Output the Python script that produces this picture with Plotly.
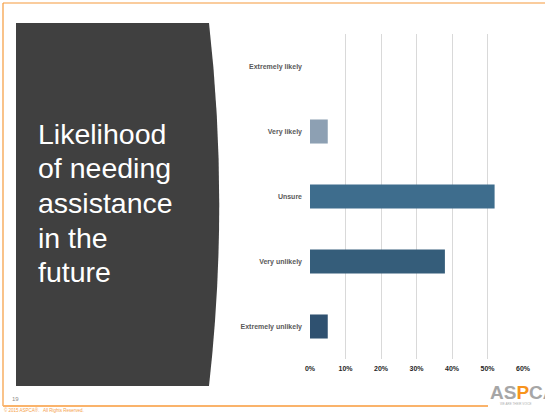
import plotly.graph_objects as go

W, H = 545, 413

categories = ["Extremely likely", "Very likely", "Unsure", "Very unlikely", "Extremely unlikely"]
values = [0.0, 0.05, 0.52, 0.38, 0.05]
bar_colors = ["#8da0b3", "#8da0b3", "#3e6d8d", "#355d7a", "#2f5170"]
tick_vals = [0, 0.1, 0.2, 0.3, 0.4, 0.5, 0.6]
tick_text = ["0%", "10%", "20%", "30%", "40%", "50%", "60%"]
title_lines = ["Likelihood", "of needing", "assistance", "in the", "future"]


def px(x, y):
    return x / W, 1 - y / H


fig = go.Figure()
fig.add_trace(go.Bar(
    y=categories, x=values, orientation="h",
    marker=dict(color=bar_colors, line=dict(width=0)),
    width=0.37, hoverinfo="skip",
))

# plot-area geometry in pixels
PL, PR, PT, PB = 310, 523, 34, 359

shapes = []
# orange slide frame
ox0, oy0 = px(3, 3)
ox1, oy1 = px(W + 5, 3)
shapes.append(dict(type="line", xref="paper", yref="paper", x0=ox0, y0=oy0, x1=ox1, y1=oy1,
                   line=dict(color="#f59a3c", width=1.2), layer="below"))
lx0, ly0 = px(3, 3)
lx1, ly1 = px(3, 406)
shapes.append(dict(type="line", xref="paper", yref="paper", x0=lx0, y0=ly0, x1=lx1, y1=ly1,
                   line=dict(color="#f59a3c", width=1.2), layer="below"))
bx0, by0 = px(3, 406)
bx1, by1 = px(488, 406)
shapes.append(dict(type="line", xref="paper", yref="paper", x0=bx0, y0=by0, x1=bx1, y1=by1,
                   line=dict(color="#fab36b", width=2), layer="below"))

# dark title panel with curved right edge
p = [px(16, 23), px(209, 23), px(229.5, 204), px(209, 386), px(16, 386)]
path = (f"M {p[0][0]},{p[0][1]} L {p[1][0]},{p[1][1]} "
        f"Q {p[2][0]},{p[2][1]} {p[3][0]},{p[3][1]} "
        f"L {p[4][0]},{p[4][1]} Z")
shapes.append(dict(type="path", xref="paper", yref="paper", path=path,
                   fillcolor="#404040", line=dict(width=0), layer="below"))

annotations = []
for i, line in enumerate(title_lines):
    tx, ty = px(37, 134 + 34.5 * i)
    annotations.append(dict(xref="paper", yref="paper", x=tx, y=ty, xanchor="left", yanchor="middle",
                            text=line, showarrow=False, align="left", borderpad=0,
                            font=dict(family="Liberation Sans, Arial", size=28.5, color="#ffffff")))
nx, ny = px(10, 399)
annotations.append(dict(xref="paper", yref="paper", x=nx, y=ny, xanchor="left", yanchor="middle",
                        text="19", showarrow=False,
                        font=dict(family="Liberation Sans, Arial", size=6, color="#8c8c8c")))
fx, fy = px(2, 409.5)
annotations.append(dict(xref="paper", yref="paper", x=fx, y=fy, xanchor="left", yanchor="middle",
                        text="© 2015 ASPCA®.   All Rights Reserved.", showarrow=False,
                        font=dict(family="Liberation Sans, Arial", size=4.5, color="#f5a04a")))
gx, gy = px(488, 392)
annotations.append(dict(xref="paper", yref="paper", x=gx, y=gy, xanchor="left", yanchor="middle",
                        text="AS<span style='color:#f7941d'>P</span>CA", showarrow=False,
                        font=dict(family="Liberation Sans Narrow, Liberation Sans, Arial", size=19,
                                  color="#a6a6a6", weight="bold")))
wx, wy = px(498, 404)
annotations.append(dict(xref="paper", yref="paper", x=wx, y=wy, xanchor="left", yanchor="middle",
                        text="WE ARE THEIR VOICE", showarrow=False,
                        font=dict(family="Liberation Sans, Arial", size=3, color="#b0b0b0")))

fig.update_layout(
    width=W, height=H, autosize=False,
    margin=dict(l=0, r=0, t=0, b=0, pad=0),
    paper_bgcolor="#ffffff", plot_bgcolor="rgba(0,0,0,0)",
    showlegend=False, bargap=0.63,
    shapes=shapes, annotations=annotations,
    xaxis=dict(
        domain=[PL / W, PR / W], range=[0, 0.6], tickvals=tick_vals, ticktext=tick_text,
        showgrid=True, gridcolor="#d9d9d9", gridwidth=1, zeroline=False, automargin=False,
        showline=False, ticks="", ticklabelstandoff=4,
        tickfont=dict(family="Liberation Sans, Arial", size=7, color="#262626", weight="bold"),
        fixedrange=True,
    ),
    yaxis=dict(
        domain=[1 - PB / H, 1 - PT / H], categoryorder="array", categoryarray=categories,
        autorange="reversed", showgrid=False, zeroline=False, showline=False, ticks="",
        ticklabelstandoff=7, automargin=False,
        tickfont=dict(family="Liberation Sans, Arial", size=7, color="#595959", weight="bold"),
        fixedrange=True,
    ),
)

fig.write_html("out.html", config={"displayModeBar": False},
               post_script="document.body.style.margin='0px';document.body.style.overflow='hidden';")
